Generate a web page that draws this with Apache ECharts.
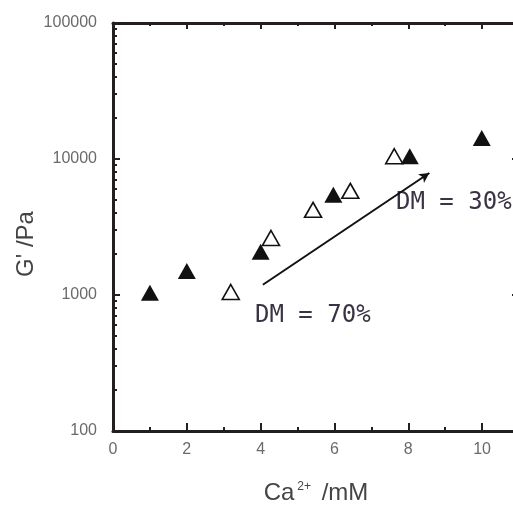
<!DOCTYPE html>
<html>
<head>
<meta charset="utf-8">
<script src="https://cdn.jsdelivr.net/npm/echarts@6/dist/echarts.min.js"></script>
<style>html,body{margin:0;padding:0;background:#fff;}#c{width:513px;height:506px;}</style>
</head>
<body>
<div id="c"></div>
<script>
// DM = 30% (filled triangles)
var filledX = [1.0, 2.0, 4.0, 5.97, 8.04, 9.99];
var filledY = [1040, 1500, 2080, 5460, 10470, 14260];
// DM = 70% (open triangles)
var openX = [3.19, 4.28, 5.42, 6.43, 7.62];
var openY = [1052, 2625, 4227, 5836, 10470];
// arrow from / to
var arrowStart = [4.06, 1190];
var arrowEnd = [8.57, 7890];
var xTickLabels = ['0', '2', '4', '6', '8', '10'];
var yTickLabels = ['100', '1000', '10000', '100000'];
var yMinorTicks = [200,300,400,500,600,700,800,900,2000,3000,4000,5000,6000,7000,8000,9000,20000,30000,40000,50000,60000,70000,80000,90000];

function pairs(xs, ys){ return xs.map(function(x,i){ return [x, ys[i]]; }); }

var chart = echarts.init(document.getElementById('c'));
var axisCol = '#231f20';
var labelCol = '#6a6a6a';
var font = 'Liberation Sans';

var baseX = {
  type: 'value', min: 0, max: 11, interval: 2,
  axisLine: { show: true, onZero: false, lineStyle: { color: axisCol, width: 3 } },
  axisTick: { show: true, inside: true, length: 7, lineStyle: { color: axisCol, width: 2 } },
  minorTick: { show: true, splitNumber: 2, length: 4, lineStyle: { color: axisCol, width: 2 } },
  splitLine: { show: false }, minorSplitLine: { show: false }
};
function yAx(pos, showLine, showLabel, minor){
  var a = {
    type: 'log', min: 100, max: 100000, logBase: 10, position: pos,
    axisLine: { show: showLine, onZero: false, lineStyle: { color: axisCol, width: 3 } },
    axisTick: { show: true, inside: true, length: minor ? 4 : 7, lineStyle: { color: axisCol, width: 2 } },
    axisLabel: { show: showLabel, color: labelCol, fontSize: 16, fontFamily: font, margin: 16,
      formatter: function(v){ var i = Math.round(Math.log10(v)) - 2; return yTickLabels[i] || ''; } },
    splitLine: { show: false }
  };
  if (minor) a.axisTick.customValues = yMinorTicks;
  return a;
}

chart.setOption({
  animation: false,
  backgroundColor: '#fff',
  grid: { left: 113, top: 23, width: 406, height: 408, containLabel: false, outerBoundsMode: 'none' },
  xAxis: [
    Object.assign({}, baseX, {
      position: 'bottom',
      axisTick: { show: true, inside: true, length: 8, lineStyle: { color: axisCol, width: 2 } },
      minorTick: { show: true, splitNumber: 2, length: 4, lineStyle: { color: axisCol, width: 2 } },
      axisLabel: { show: true, color: labelCol, fontSize: 16, fontFamily: font, margin: 11, showMaxLabel: false,
        formatter: function(v){ var i = Math.round(v/2); return (v % 2 === 0 && xTickLabels[i]) ? xTickLabels[i] : ''; } },
      name: '{a|Ca}{s|2+}{a| /mM}', nameLocation: 'middle', nameGap: 50,
      nameTextStyle: { fontFamily: font, color: '#444',
        rich: { a: { fontSize: 24, fontFamily: font, color: '#444' },
                s: { fontSize: 12, fontFamily: font, color: '#444', verticalAlign: 'top', padding: [0,4,0,3] } } }
    }),
    Object.assign({}, baseX, { position: 'top', axisLabel: { show: false },
      axisTick: { show: true, inside: true, length: 6, lineStyle: { color: axisCol, width: 2 } },
      minorTick: { show: true, splitNumber: 2, length: 3, lineStyle: { color: axisCol, width: 2 } } })
  ],
  yAxis: [
    yAx('left', true, true, false),
    yAx('left', false, false, true),
    yAx('right', true, false, false),
    yAx('right', false, false, true)
  ],
  graphic: [
    { type: 'text', x: 26, y: 244, rotation: Math.PI/2,
      style: { text: "G' /Pa", fontSize: 24, fontFamily: font, fill: '#444', align: 'center', verticalAlign: 'middle' } },
    { type: 'text', x: 396, y: 203,
      style: { text: 'DM = 30%', fontSize: 24, fontFamily: 'DejaVu Sans Mono', fill: '#3a3344', align: 'left', verticalAlign: 'middle' } },
    { type: 'text', x: 255, y: 316,
      style: { text: 'DM = 70%', fontSize: 24, fontFamily: 'DejaVu Sans Mono', fill: '#3a3344', align: 'left', verticalAlign: 'middle' } }
  ],
  series: [
    { type: 'scatter', name: 'DM30', xAxisIndex: 0, yAxisIndex: 0,
      data: pairs(filledX, filledY), symbol: 'triangle', symbolSize: [18, 16],
      itemStyle: { color: '#111', opacity: 1 },
      markLine: { silent: true, symbol: ['none', 'arrow'], symbolSize: [8, 10], label: { show: false },
        lineStyle: { color: '#111', width: 2, type: 'solid' },
        data: [[ { coord: arrowStart }, { coord: arrowEnd } ]] } },
    { type: 'scatter', name: 'DM70', xAxisIndex: 0, yAxisIndex: 0,
      data: pairs(openX, openY), symbol: 'triangle', symbolSize: [17, 15],
      itemStyle: { color: '#fff', borderColor: '#111', borderWidth: 1.6, opacity: 1 } }
  ]
});
</script>
</body>
</html>
